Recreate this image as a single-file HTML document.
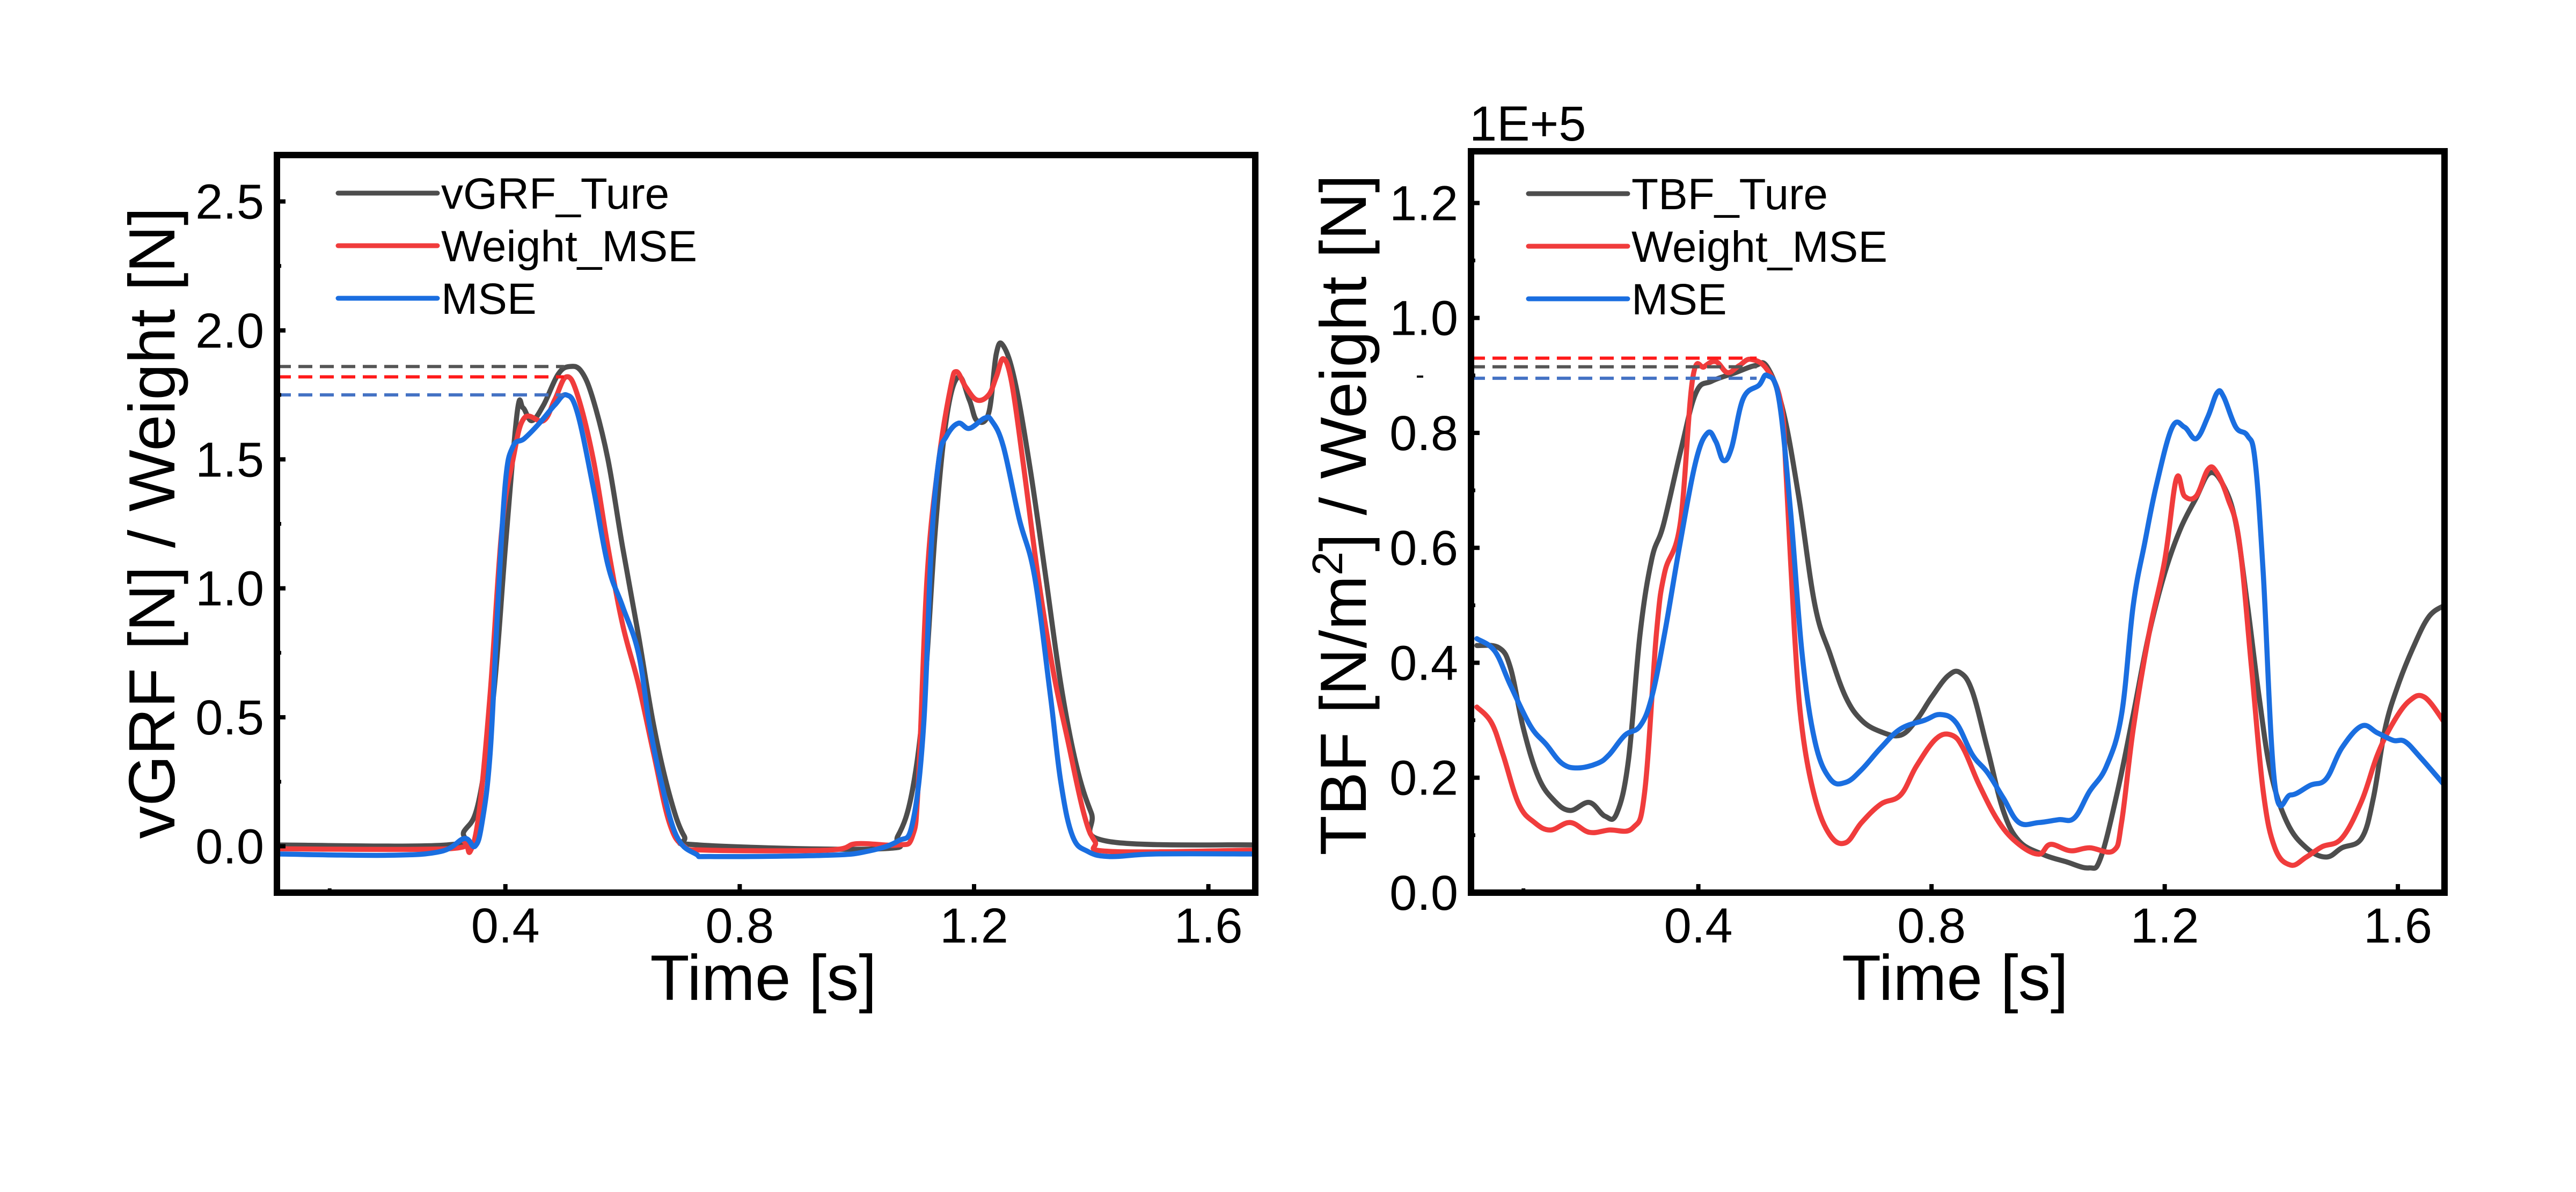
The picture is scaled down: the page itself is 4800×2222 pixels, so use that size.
<!DOCTYPE html>
<html><head><meta charset="utf-8"><style>
html,body{margin:0;padding:0;background:#fff;}
svg{display:block;font-family:"Liberation Sans",Arial,sans-serif;}
</style></head><body>
<svg id="fig" width="4800" height="2222" viewBox="0 0 4800 2222" xmlns="http://www.w3.org/2000/svg">
<rect width="4800" height="2222" fill="#fff"/>
<g id="left"></g>
<g id="right"></g>
</svg>
<script>
// ---------- Left chart data (vGRF) ----------
const tGrayL = [0.01,0.3,0.33,0.355,0.38,0.4,0.42,0.43,0.445,0.465,0.49,0.51,0.53,0.55,0.575,0.6,0.627,0.653,0.68,0.705,0.73,1.04,1.07,1.095,1.115,1.134,1.153,1.173,1.192,1.205,1.225,1.238,1.25,1.27,1.296,1.322,1.348,1.374,1.4,1.426,1.68];
const vGrayL = [0.005,0.005,0.06,0.18,0.59,1.16,1.68,1.70,1.65,1.71,1.83,1.86,1.84,1.73,1.5,1.16,0.82,0.47,0.2,0.04,0.005,-0.01,0.04,0.22,0.59,1.23,1.66,1.82,1.73,1.65,1.68,1.91,1.94,1.80,1.46,1.05,0.63,0.32,0.13,0.02,0.005];
const tRedL = [0.01,0.3,0.33,0.34,0.355,0.374,0.394,0.413,0.432,0.465,0.484,0.504,0.523,0.55,0.575,0.6,0.627,0.653,0.68,0.705,0.744,0.95,1.0,1.07,1.095,1.105,1.12,1.14,1.16,1.17,1.186,1.205,1.225,1.238,1.25,1.264,1.283,1.309,1.335,1.36,1.387,1.406,1.432,1.68];
const vRedL = [-0.01,-0.01,0.02,-0.02,0.13,0.59,1.23,1.5,1.66,1.65,1.73,1.82,1.75,1.5,1.16,0.86,0.63,0.36,0.09,0.0,-0.015,-0.015,0.01,0.005,0.04,0.25,1.05,1.5,1.78,1.84,1.78,1.73,1.75,1.82,1.89,1.80,1.5,1.05,0.68,0.41,0.13,0.02,-0.02,-0.015];
const tBlueL = [0.01,0.2,0.29,0.33,0.348,0.36,0.374,0.387,0.4,0.413,0.432,0.458,0.484,0.504,0.523,0.55,0.575,0.6,0.627,0.646,0.666,0.692,0.725,0.757,0.95,1.017,1.07,1.095,1.114,1.127,1.14,1.153,1.173,1.192,1.218,1.23,1.25,1.277,1.303,1.33,1.348,1.368,1.394,1.432,1.51,1.68];
const vBlueL = [-0.03,-0.035,-0.02,0.03,0.0,0.09,0.36,0.93,1.41,1.55,1.58,1.64,1.71,1.75,1.68,1.39,1.09,0.93,0.75,0.47,0.25,0.04,-0.03,-0.04,-0.035,-0.02,0.02,0.09,0.47,1.16,1.5,1.59,1.64,1.62,1.66,1.65,1.55,1.27,1.05,0.59,0.25,0.04,-0.02,-0.04,-0.03,-0.03];
const peaksL = [1.86,1.82,1.75];
const yTicksL = [0.0,0.5,1.0,1.5,2.0,2.5];
const yTickLabelsL = ["0.0","0.5","1.0","1.5","2.0","2.5"];
const xTicks = [0.4,0.8,1.2,1.6];
const xTickLabels = ["0.4","0.8","1.2","1.6"];

// ---------- Right chart data (TBF, x1E+5) ----------
const tGrayR = [0.02,0.058,0.078,0.1,0.126,0.153,0.18,0.213,0.24,0.26,0.28,0.3,0.32,0.34,0.37,0.396,0.423,0.464,0.497,0.518,0.545,0.572,0.6,0.626,0.653,0.68,0.713,0.747,0.774,0.8,0.828,0.849,0.87,0.896,0.923,0.95,0.99,1.03,1.07,1.09,1.119,1.146,1.173,1.2,1.227,1.254,1.277,1.3,1.322,1.342,1.362,1.382,1.41,1.443,1.477,1.504,1.538,1.558,1.578,1.6,1.626,1.653,1.68];
const vGrayR = [0.43,0.426,0.39,0.285,0.2,0.16,0.143,0.157,0.133,0.138,0.23,0.45,0.58,0.64,0.77,0.87,0.89,0.905,0.917,0.915,0.84,0.69,0.5,0.415,0.34,0.3,0.28,0.274,0.3,0.34,0.377,0.383,0.35,0.25,0.143,0.09,0.067,0.054,0.043,0.06,0.176,0.31,0.45,0.556,0.633,0.687,0.73,0.71,0.643,0.5,0.34,0.209,0.122,0.078,0.062,0.078,0.095,0.165,0.285,0.36,0.426,0.48,0.5];
const tRedR = [0.02,0.045,0.065,0.092,0.119,0.146,0.18,0.213,0.247,0.288,0.308,0.328,0.342,0.369,0.39,0.41,0.43,0.45,0.47,0.49,0.518,0.542,0.551,0.565,0.578,0.6,0.626,0.653,0.68,0.713,0.747,0.774,0.808,0.835,0.855,0.882,0.916,0.95,0.984,1.004,1.038,1.071,1.112,1.126,1.146,1.173,1.2,1.22,1.234,1.254,1.274,1.288,1.308,1.328,1.349,1.369,1.389,1.416,1.443,1.47,1.504,1.538,1.565,1.592,1.62,1.646,1.68];
const vRedR = [0.323,0.296,0.24,0.154,0.122,0.109,0.122,0.105,0.109,0.113,0.176,0.45,0.556,0.643,0.893,0.915,0.924,0.905,0.917,0.928,0.91,0.85,0.72,0.45,0.285,0.165,0.1,0.087,0.122,0.154,0.17,0.22,0.268,0.274,0.25,0.187,0.122,0.084,0.067,0.084,0.073,0.078,0.073,0.122,0.285,0.45,0.578,0.72,0.69,0.69,0.736,0.733,0.687,0.61,0.39,0.176,0.078,0.048,0.062,0.08,0.095,0.16,0.24,0.296,0.334,0.34,0.296];
const tBlueR = [0.02,0.051,0.078,0.112,0.139,0.166,0.193,0.227,0.247,0.274,0.3,0.32,0.342,0.369,0.396,0.416,0.43,0.443,0.457,0.477,0.504,0.518,0.538,0.558,0.578,0.6,0.626,0.653,0.68,0.713,0.747,0.788,0.815,0.842,0.87,0.896,0.923,0.95,0.984,1.018,1.045,1.071,1.1,1.126,1.146,1.166,1.186,1.213,1.234,1.254,1.274,1.29,1.301,1.322,1.342,1.355,1.369,1.389,1.416,1.45,1.477,1.504,1.538,1.565,1.592,1.612,1.638,1.68];
const vBlueR = [0.442,0.42,0.36,0.29,0.258,0.225,0.217,0.225,0.24,0.274,0.29,0.34,0.45,0.61,0.752,0.8,0.785,0.752,0.774,0.86,0.883,0.9,0.86,0.665,0.415,0.263,0.198,0.192,0.214,0.252,0.285,0.3,0.31,0.296,0.24,0.209,0.165,0.122,0.122,0.127,0.13,0.176,0.22,0.31,0.5,0.61,0.71,0.81,0.81,0.79,0.828,0.87,0.863,0.81,0.795,0.752,0.556,0.187,0.17,0.187,0.198,0.252,0.29,0.278,0.265,0.263,0.236,0.187];
const peaksR = [0.915,0.93,0.895];
const yTicksR = [0.0,0.2,0.4,0.6,0.8,1.0,1.2];
const yTickLabelsR = ["0.0","0.2","0.4","0.6","0.8","1.0","1.2"];

const NS = "http://www.w3.org/2000/svg";
function mk(parent, tag, attrs, text){
  const e = document.createElementNS(NS, tag);
  for (const k in attrs) e.setAttribute(k, attrs[k]);
  if (text !== undefined) e.textContent = text;
  parent.appendChild(e);
  return e;
}
const COLORS = {gray:"#4d4d4d", red:"#f03c3c", blue:"#1a6ee0"};
const DASH = {gray:"#555555", red:"#ff1a1a", blue:"#4472c4"};

function smoothPath(pts){
  let d = "M" + pts[0][0].toFixed(1) + "," + pts[0][1].toFixed(1);
  const k = 0.18;
  for (let i = 0; i < pts.length - 1; i++){
    const p0 = pts[Math.max(0,i-1)], p1 = pts[i], p2 = pts[i+1], p3 = pts[Math.min(pts.length-1,i+2)];
    const c1x = p1[0] + (p2[0]-p0[0])*k, c1y = p1[1] + (p2[1]-p0[1])*k;
    const c2x = p2[0] - (p3[0]-p1[0])*k, c2y = p2[1] - (p3[1]-p1[1])*k;
    d += "C" + c1x.toFixed(1) + "," + c1y.toFixed(1) + " " + c2x.toFixed(1) + "," + c2y.toFixed(1) + " " + p2[0].toFixed(1) + "," + p2[1].toFixed(1);
  }
  return d;
}

function drawChart(g, cfg){
  const {L,R,T,B,xmin,xmax,ymin,ymax} = cfg;
  const X = t => L + (t - xmin) / (xmax - xmin) * (R - L);
  const Y = v => B - (v - ymin) / (ymax - ymin) * (B - T);
  cfg.series.forEach(s => {
    const pts = s.t.map((t,i) => [X(t), Y(s.v[i])]);
    const p = mk(g, "path", {d:smoothPath(pts), fill:"none", stroke:COLORS[s.c], "stroke-width":9.5, "stroke-linejoin":"round", "stroke-linecap":"round"});
    
    
  });
  cfg.peaks.forEach((pv,i) => {
    const c = ["gray","red","blue"][i];
    const ln = mk(g, "line", {x1:L, x2:X(cfg.peakEnd), y1:Y(pv), y2:Y(pv), stroke:DASH[c], "stroke-width":6, "stroke-dasharray":"26,14"});
    
    
  });
  cfg.yTicks.forEach((v,i) => {
    const y = Y(v);
    const tk = mk(g, "line", {x1:L, x2:L+16, y1:y, y2:y, stroke:"#000", "stroke-width":8});
    
    
    const lb = mk(g, "text", {x:L-24, y:y+32, "text-anchor":"end", "font-size":92, fill:"#000"}, cfg.yLabels[i]);
    
    
    if (i < cfg.yTicks.length - 1) {
      const ym = Y(v + (cfg.yTicks[1]-cfg.yTicks[0])/2);
      const mt = mk(g, "line", {x1:L, x2:L+8, y1:ym, y2:ym, stroke:"#000", "stroke-width":7});
      
      
    }
  });
  xTicks.forEach((t,i) => {
    const x = X(t);
    const tk = mk(g, "line", {x1:x, x2:x, y1:B, y2:B-16, stroke:"#000", "stroke-width":8});
    
    
    const lb = mk(g, "text", {x:x, y:B+93, "text-anchor":"middle", "font-size":92, fill:"#000"}, xTickLabels[i]);
    
    
  });
  const mx = mk(g, "line", {x1:X(0.1), x2:X(0.1), y1:B, y2:B-8, stroke:"#000", "stroke-width":7});
  
  
  const fr = mk(g, "rect", {x:L, y:T, width:R-L, height:B-T, fill:"none", stroke:"#000", "stroke-width":12});
  
  
  const xt = mk(g, "text", {x:(L+R)/2 - 5, y:B+200, "text-anchor":"middle", "font-size":120, fill:"#000"}, "Time [s]");
  
  
  cfg.legend.forEach((lg,i) => {
    const y = cfg.legY + i*98;
    const ll = mk(g, "line", {x1:cfg.legX, x2:cfg.legX+185, y1:y, y2:y, stroke:COLORS[lg.c], "stroke-width":9, "stroke-linecap":"round"});
    
    
    const lt = mk(g, "text", {x:cfg.legX+192, y:y+29, "font-size":82, fill:"#000"}, lg.label);
    
    
  });
  return {X, Y};
}

const gL = document.getElementById("left");
drawChart(gL, {L:516,R:2339,T:289,B:1664,xmin:0.01,xmax:1.68,ymin:-0.18,ymax:2.68,
  series:[{t:tGrayL,v:vGrayL,c:"gray",name:"vgrf-ture"},{t:tRedL,v:vRedL,c:"red",name:"weight-mse"},{t:tBlueL,v:vBlueL,c:"blue",name:"mse"}],
  peaks:peaksL, peakEnd:0.5, yTicks:yTicksL, yLabels:yTickLabelsL,
  legend:[{c:"gray",label:"vGRF_Ture"},{c:"red",label:"Weight_MSE"},{c:"blue",label:"MSE"}],
  legX:630, legY:360});
const ytL = mk(gL, "text", {x:0, y:0, "text-anchor":"middle", "font-size":122, fill:"#000", transform:"translate(325,975) rotate(-90)"}, "vGRF [N] / Weight [N]");



const gR = document.getElementById("right");
drawChart(gR, {L:2741,R:4555,T:282,B:1664,xmin:0.01,xmax:1.68,ymin:0,ymax:1.29,
  series:[{t:tGrayR,v:vGrayR,c:"gray",name:"tbf-ture"},{t:tRedR,v:vRedR,c:"red",name:"weight-mse"},{t:tBlueR,v:vBlueR,c:"blue",name:"mse"}],
  peaks:peaksR, peakEnd:0.5, yTicks:yTicksR, yLabels:yTickLabelsR,
  legend:[{c:"gray",label:"TBF_Ture"},{c:"red",label:"Weight_MSE"},{c:"blue",label:"MSE"}],
  legX:2848, legY:361});
const ytR = mk(gR, "text", {x:0, y:0, "text-anchor":"middle", "font-size":122, fill:"#000", transform:"translate(2545,960) rotate(-90)"});


mk(ytR, "tspan", {}, "TBF [N/m");
mk(ytR, "tspan", {"baseline-shift":"super", "font-size":80}, "2");
mk(ytR, "tspan", {}, "] / Weight [N]");
const sc = mk(gR, "text", {x:2738, y:262, "font-size":92, fill:"#000"}, "1E+5");


const dash = mk(gR, "line", {x1:2640, x2:2652, y1:702, y2:702, stroke:"#000", "stroke-width":4});


</script>
</body></html>
